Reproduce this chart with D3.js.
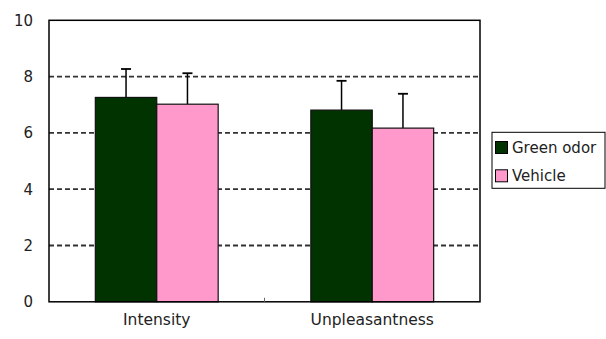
<!DOCTYPE html>
<html><head><meta charset="utf-8">
<script src="https://cdn.jsdelivr.net/npm/d3@7"></script>
<style>body{margin:0;background:#fff}svg{display:block}</style>
</head><body><svg id="c" width="606" height="339"></svg>
<script>
const categories = ["Intensity", "Unpleasantness"];
const seriesNames = ["Green odor", "Vehicle"];
const greenOdor = [7.26, 6.81];
const vehicle = [7.02, 6.17];
const greenOdorErr = [1.01, 1.04];
const vehicleErr = [1.10, 1.22];
const yTicks = [0, 2, 4, 6, 8, 10];
const colors = ["#003300", "#ff99cc"];

const svg = d3.select("#c");
const font = "'DejaVu Sans', sans-serif";
const L = 49, R = 480, T = 20.3, B = 301.8;
const x = d3.scaleBand().domain(categories).range([L, R]).paddingInner(0.43).paddingOuter(0.215);
const xs = d3.scaleBand().domain(seriesNames).range([0, x.bandwidth()]);
const y = d3.scaleLinear().domain([0, 10]).range([B, T]);

// gridlines
svg.append("g").selectAll("line").data(yTicks.filter(t => t > 0 && t < 10)).join("line")
  .attr("x1", L).attr("x2", R).attr("y1", d => y(d)).attr("y2", d => y(d))
  .attr("stroke", "#333").attr("stroke-width", 1.8).attr("stroke-dasharray", "5,3");

const data = categories.map((c, i) => ({c, vals: [
  {s: seriesNames[0], v: greenOdor[i], e: greenOdorErr[i], col: colors[0]},
  {s: seriesNames[1], v: vehicle[i], e: vehicleErr[i], col: colors[1]}]}));

const g = svg.append("g").selectAll("g").data(data).join("g")
  .attr("transform", d => `translate(${x(d.c)},0)`);
// error bars
g.selectAll("line.e").data(d => d.vals).join("line").attr("class", "e")
  .attr("x1", d => xs(d.s) + xs.bandwidth()/2).attr("x2", d => xs(d.s) + xs.bandwidth()/2)
  .attr("y1", d => y(d.v)).attr("y2", d => y(d.v + d.e))
  .attr("stroke", "#000").attr("stroke-width", 1.5);
g.selectAll("line.cap").data(d => d.vals).join("line").attr("class", "cap")
  .attr("x1", d => xs(d.s) + xs.bandwidth()/2 - 5).attr("x2", d => xs(d.s) + xs.bandwidth()/2 + 5)
  .attr("y1", d => y(d.v + d.e)).attr("y2", d => y(d.v + d.e))
  .attr("stroke", "#000").attr("stroke-width", 1.8);
g.selectAll("rect").data(d => d.vals).join("rect")
  .attr("x", d => xs(d.s)).attr("width", xs.bandwidth())
  .attr("y", d => y(d.v)).attr("height", d => y(0) - y(d.v))
  .attr("fill", d => d.col).attr("stroke", "#111").attr("stroke-width", 1.2);

// frame
svg.append("rect").attr("x", L).attr("y", T).attr("width", R - L).attr("height", B - T)
  .attr("fill", "none").attr("stroke", "#000").attr("stroke-width", 1.5);
// center tick
svg.append("line").attr("x1", (L+R)/2).attr("x2", (L+R)/2).attr("y1", B).attr("y2", B - 4)
  .attr("stroke", "#666").attr("stroke-width", 1);

// y labels
svg.append("g").selectAll("text").data(yTicks).join("text")
  .attr("x", 33).attr("y", d => y(d)).attr("dy", "0.36em").attr("text-anchor", "end")
  .attr("font-family", font).attr("font-size", 15).attr("fill", "#222").text(d => d);
// x labels
svg.append("g").selectAll("text").data(categories).join("text")
  .attr("x", d => x(d) + x.bandwidth()/2).attr("y", 325).attr("text-anchor", "middle")
  .attr("font-family", font).attr("font-size", 15.5).attr("fill", "#222").text(d => d);

// legend
const lg = svg.append("g");
lg.append("rect").attr("x", 492).attr("y", 132.3).attr("width", 113).attr("height", 56)
  .attr("fill", "#fff").attr("stroke", "#000").attr("stroke-width", 1);
const items = lg.selectAll("g").data(seriesNames).join("g")
  .attr("transform", (d, i) => `translate(0,${i * 28.3})`);
items.append("rect").attr("x", 495.5).attr("y", 141.5).attr("width", 12).attr("height", 12)
  .attr("fill", (d, i) => colors[i]).attr("stroke", "#000").attr("stroke-width", 1);
items.append("text").attr("x", 512).attr("y", 153).attr("font-family", font).attr("font-size", 15)
  .attr("fill", "#222").text(d => d);
</script></body></html>
